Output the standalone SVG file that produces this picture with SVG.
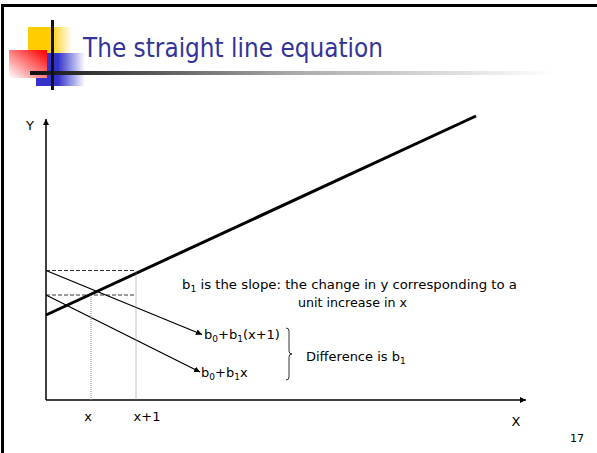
<svg xmlns="http://www.w3.org/2000/svg" width="597" height="453" viewBox="0 0 597 453">
<defs>
<linearGradient id="gy" x1="0" y1="0" x2="1" y2="0"><stop offset="0" stop-color="#ffcc00"/><stop offset="0.5" stop-color="#ffcc00"/><stop offset="1" stop-color="#ffffff"/></linearGradient>
<linearGradient id="gb" x1="0" y1="0" x2="1" y2="0"><stop offset="0" stop-color="#3333cc"/><stop offset="0.45" stop-color="#3333cc"/><stop offset="1" stop-color="#ffffff"/></linearGradient>
<linearGradient id="gr" x1="1" y1="0" x2="0" y2="1"><stop offset="0" stop-color="#ff0000"/><stop offset="0.15" stop-color="#ff2020"/><stop offset="1" stop-color="#ffffff"/></linearGradient>
<linearGradient id="gl" x1="0" y1="0" x2="1" y2="0"><stop offset="0" stop-color="#111111"/><stop offset="0.5" stop-color="#aaaaaa"/><stop offset="1" stop-color="#ffffff"/></linearGradient>
<marker id="ah" viewBox="0 0 10 10" refX="10" refY="5" markerWidth="6" markerHeight="6" markerUnits="userSpaceOnUse" orient="auto"><path d="M0,0 L10,5 L0,10 z" fill="#000"/></marker>
</defs>
<style>
.t{font-family:"DejaVu Sans","Verdana",sans-serif;font-size:13px;fill:#000}
.ax{stroke:#000;stroke-width:1.5;fill:none}
.thin{stroke:#000;stroke-width:1.3;fill:none}
.dash{stroke:#000;stroke-width:0.8;stroke-dasharray:4 2;fill:none}
.dot{stroke:#888;stroke-width:1;stroke-dasharray:1 1;fill:none}
</style>
<rect width="597" height="453" fill="#fff"/>
<rect x="2.5" y="5.5" width="700" height="600" fill="none" stroke="#000" stroke-width="3"/>
<g id="logo">
<rect x="28" y="27" width="44" height="26" fill="url(#gy)"/>
<rect x="36" y="53" width="49" height="33" fill="url(#gb)"/>
<rect x="9" y="50" width="38" height="28" fill="url(#gr)"/>
<rect x="30" y="71" width="525" height="4" fill="url(#gl)"/>
<rect x="51" y="20" width="3" height="70" fill="#111"/>
</g>
<g id="title"><text x="83" y="57" textLength="300" lengthAdjust="spacingAndGlyphs" style="font-family:'DejaVu Sans',Verdana,sans-serif;font-size:26px;fill:#333399">The straight line equation</text></g>
<g id="connectors">
<line class="ax" x1="46" y1="400" x2="46" y2="119" marker-end="url(#ah)"/>
<line class="ax" x1="46" y1="400" x2="526" y2="400" marker-end="url(#ah)"/>
<line x1="46" y1="315" x2="476" y2="116" stroke="#000" stroke-width="3"/>
<line class="thin" x1="46" y1="270.5" x2="202" y2="334.5" marker-end="url(#ah)"/>
<line class="thin" x1="46" y1="295" x2="200" y2="372" marker-end="url(#ah)"/>
<line class="dash" x1="46" y1="270.5" x2="136" y2="270.5"/>
<line class="dash" x1="46" y1="295" x2="136" y2="295"/>
<line class="dot" x1="91" y1="295" x2="91" y2="400"/>
<line class="dot" x1="136" y1="270.5" x2="136" y2="400"/>
<path d="M286,328 Q289,328 289,331 L289,351 Q289,354 292,354 Q289,354 289,357 L289,377 Q289,380 286,380" fill="none" stroke="#000" stroke-width="0.8"/>
</g>
<g id="labels">
<text class="t" x="30" y="130" text-anchor="middle">Y</text>
<text class="t" x="516" y="426" text-anchor="middle">X</text>
<text class="t" x="88" y="421" text-anchor="middle">x</text>
<text class="t" x="147" y="421" text-anchor="middle">x+1</text>
<text class="t" x="577" y="442" text-anchor="middle" style="font-size:11px">17</text>
<text class="t" x="182" y="289" textLength="335" lengthAdjust="spacingAndGlyphs">b<tspan dy="3" font-size="9">1</tspan><tspan dy="-3"> is the slope: the change in y corresponding to a</tspan></text>
<text class="t" x="298" y="307" textLength="109" lengthAdjust="spacingAndGlyphs">unit increase in x</text>
<text class="t" x="204" y="339">b<tspan dy="3" font-size="9">0</tspan><tspan dy="-3">+b</tspan><tspan dy="3" font-size="9">1</tspan><tspan dy="-3">(x+1)</tspan></text>
<text class="t" x="201" y="377">b<tspan dy="3" font-size="9">0</tspan><tspan dy="-3">+b</tspan><tspan dy="3" font-size="9">1</tspan><tspan dy="-3">x</tspan></text>
<text class="t" x="306" y="361">Difference is b<tspan dy="3" font-size="9">1</tspan></text>
</g>
</svg>
